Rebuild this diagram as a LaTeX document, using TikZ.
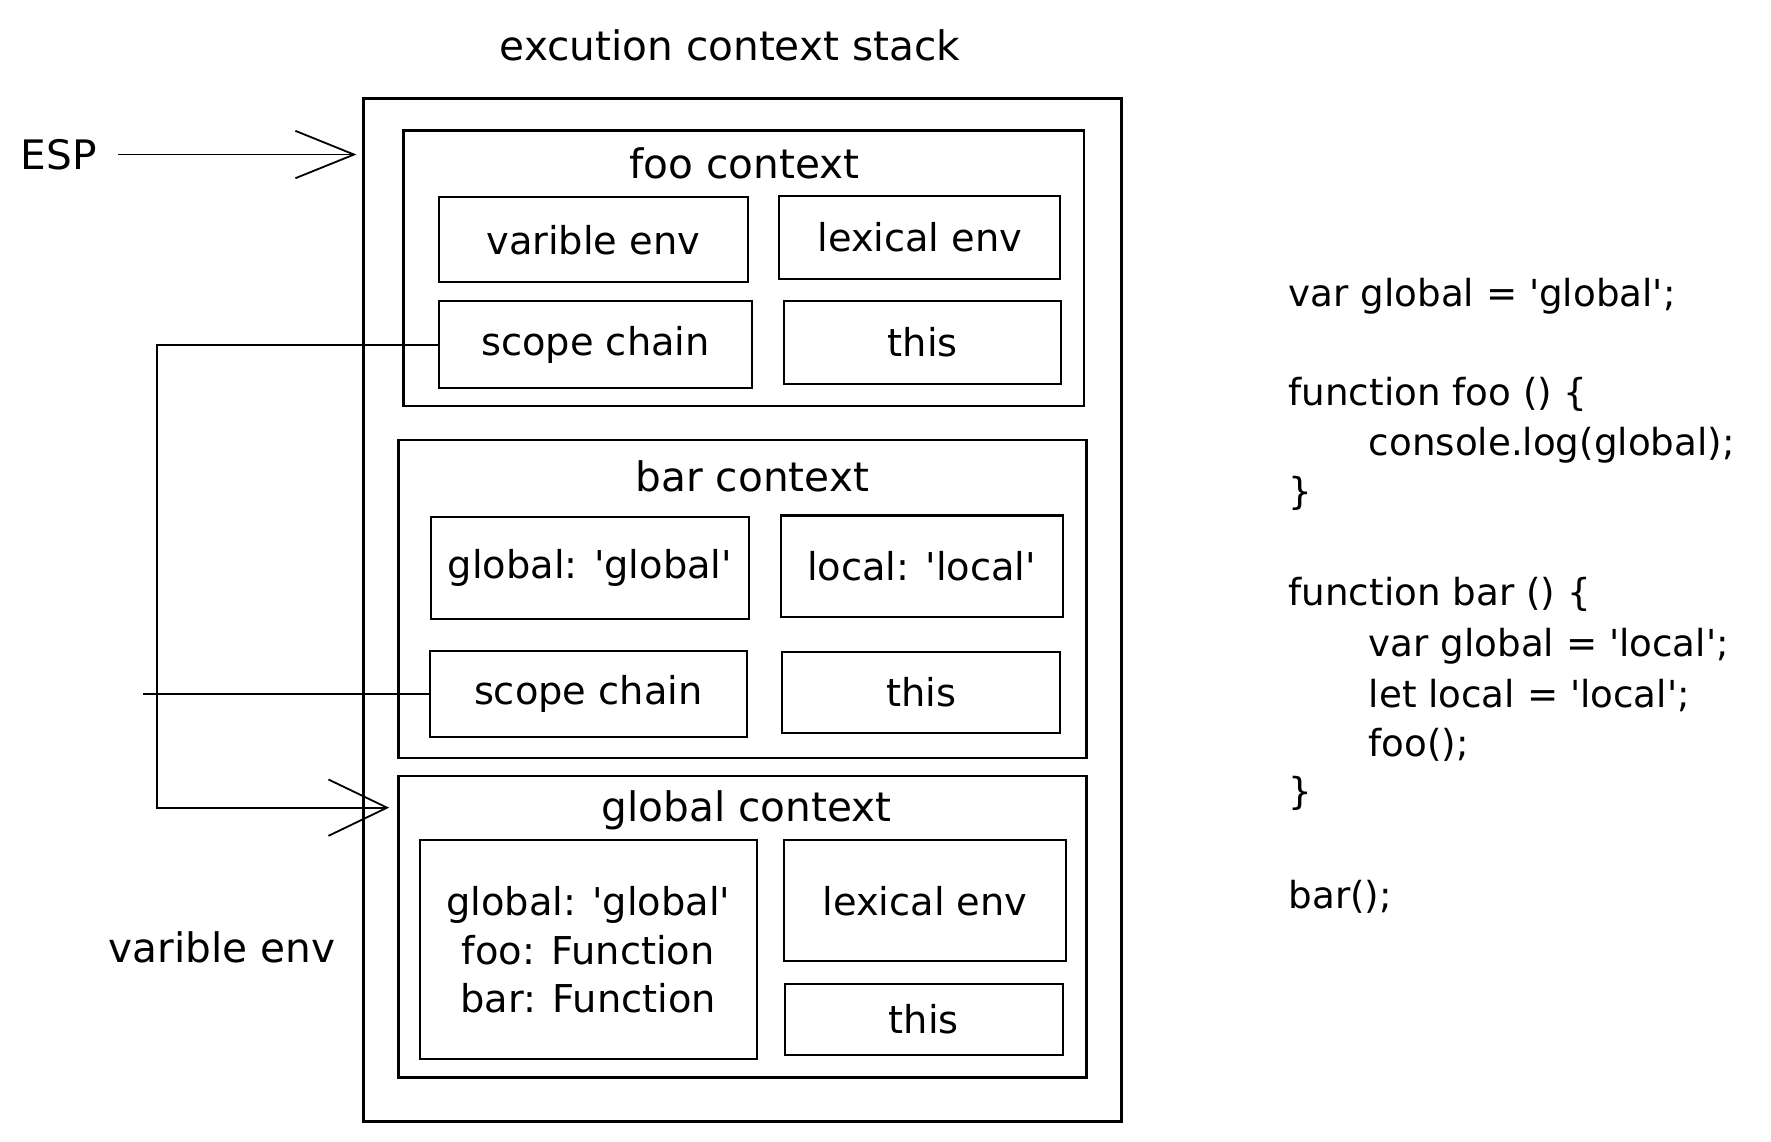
\documentclass[tikz,border=0pt]{standalone}
\usepackage{fontspec}
\setmainfont{DejaVu Sans}
\usetikzlibrary{arrows.meta,fit,positioning}
\newcommand{\sq}{\textquotesingle}
\tikzset{
  stackbox/.style={draw, line width=1.3pt, inner sep=0pt},
  ctxbox/.style={draw, line width=1.2pt, inner sep=0pt},
  cellbox/.style={draw, line width=0.9pt, inner sep=0pt},
  celltext/.style={align=center, font=\fontsize{17}{21.5}\selectfont},
  title/.style={font=\fontsize{18}{22}\selectfont},
  codeline/.style={anchor=west, inner sep=0pt, font=\fontsize{16.5}{20}\selectfont},
  barb/.style={-{Straight Barb[length=26pt,width=21pt]}, line width=0.8pt},
  widebarb/.style={-{Straight Barb[length=26pt,width=25pt]}, line width=0.8pt},
}
\begin{document}
\begin{tikzpicture}[x=0.5pt, y=-0.5pt]  % execution context stack
    \useasboundingbox (0,0) rectangle (1570,1012);
    \node[title] (stacktitle) at (647,40) {excution context stack};
    \node[stackbox, fit={(322,87) (994,994)}] (stack) {};

    % foo context
    \node[ctxbox, fit={(358,116) (961,360)}] (fooctx) {};
    \node[title] (footitle) at (660,145) {foo context};
    \node[cellbox, fit={(389,175) (663,250)}, label={[celltext]center:varible env}] (foovar) {};
    \node[cellbox, fit={(691,174) (940,247)}, label={[celltext]center:lexical env}] (foolex) {};
    \node[cellbox, fit={(389,267) (667,344)}, label={[celltext]center:scope chain}] (fooscope) {};
    \node[cellbox, fit={(695,267) (941,340)}, label={[celltext]center:this}] (foothis) {};

    % bar context
    \node[ctxbox, fit={(353,390) (963,672)}] (barctx) {};
    \node[title] (bartitle) at (667,422) {bar context};
    \node[cellbox, fit={(382,458) (664,549)}, label={[celltext]center:global: \sq global\sq}] (barvar) {};
    \node[cellbox, fit={(692,457) (942,547)}, label={[celltext]center:local: \sq local\sq}] (barlex) {};
    \node[cellbox, fit={(381,577) (662,653)}, label={[celltext]center:scope chain}] (barscope) {};
    \node[cellbox, fit={(693,578) (940,650)}, label={[celltext]center:this}] (barthis) {};

    % global context
    \node[ctxbox, fit={(353,688) (963,955)}] (globctx) {};
    \node[title] (globtitle) at (662,718) {global context};
    \node[cellbox, fit={(372,745) (671,939)},
        label={[celltext]center:global: \sq global\sq\\ foo: Function\\ bar: Function}] (globvar) {};
    \node[cellbox, fit={(695,745) (945,852)}, label={[celltext]center:lexical env}] (globlex) {};
    \node[cellbox, fit={(696,872) (942,935)}, label={[celltext]center:this}] (globthis) {};

    % left side
    \node[title] (esp) at (52,137) {ESP};
    \coordinate (esptip) at (316,137);
    \draw[barb] ([xshift=6pt]esp.east) -- (esptip);
    \coordinate (globtip) at (345,716);
    \draw[widebarb] (fooscope.west) -- ++(-249,0) |- (globtip);
    \coordinate (barend) at (127,615);
    \draw[line width=0.8pt] (barscope.west) -- (barend);
    \node[title] (varlabel) at (197,840) {varible env};

    % code
    \node[codeline] (c1) at (1142,263) {var global = \sq global\sq;};
    \node[codeline] (c2) at (1142,350) {function foo () \{};
    \node[codeline] (c3) at (1213,395) {console.log(global);};
    \node[codeline] (c4) at (1142,437) {\}};
    \node[codeline] (c5) at (1142,527) {function bar () \{};
    \node[codeline] (c6) at (1213,573) {var global = \sq local\sq;};
    \node[codeline] (c7) at (1213,617) {let local = \sq local\sq;};
    \node[codeline] (c8) at (1213,660) {foo();};
    \node[codeline] (c9) at (1142,703) {\}};
    \node[codeline] (c10) at (1142,795) {bar();};
\end{tikzpicture}
\end{document}
